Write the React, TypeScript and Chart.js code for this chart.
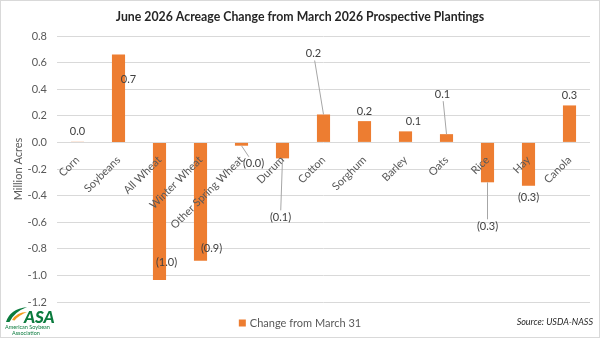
import { useEffect, useRef } from "react";
import { Chart, registerables } from "chart.js";

Chart.register(...registerables);

const FONT = "Lato, 'Open Sans', sans-serif";

const categories = [
  "Corn",
  "Soybeans",
  "All Wheat",
  "Winter Wheat",
  "Other Spring Wheat",
  "Durum",
  "Cotton",
  "Sorghum",
  "Barley",
  "Oats",
  "Rice",
  "Hay",
  "Canola",
];

// Million acres, June estimate minus March intentions
const changeFromMarch = [
  0.005, 0.66, -1.035, -0.89, -0.025, -0.12, 0.21, 0.16, 0.083, 0.062, -0.3, -0.326, 0.278,
];

const yMin = -1.2;
const yMax = 0.8;
const yStep = 0.2;

const seriesName = "Change from March 31";
const titleText = "June 2026 Acreage Change from March 2026 Prospective Plantings";
const yAxisTitle = "Million Acres";
const sourceText = "Source: USDA-NASS";

// Value label placement: pixel offset from the bar end, and whether a leader line is drawn
const labelPlacement: [number, number, boolean][] = [
  [0, -10, false],
  [10, 25, false],
  [7, -18, false],
  [11, -12, false],
  [12, 18, true],
  [-2, 59, true],
  [-10, -61, true],
  [0, -10, false],
  [8, -10, false],
  [-4, -40, true],
  [0, 44, true],
  [0, 12, false],
  [0, -10, false],
];

const BAR_COLOR = "#ED7D31";
const GRID_COLOR = "#d9d9d9";
const AXIS_TEXT = "#595959";
const LABEL_TEXT = "#404040";

function formatValue(v: number): string {
  return v < 0 ? `(${Math.abs(v).toFixed(1)})` : v.toFixed(1);
}

function drawLogo(ctx: CanvasRenderingContext2D) {
  const green = "#0b7b3e";
  ctx.save();
  // green leaf swoosh
  ctx.fillStyle = green;
  ctx.beginPath();
  ctx.moveTo(6, 322);
  ctx.quadraticCurveTo(10, 309, 27, 307);
  ctx.quadraticCurveTo(14, 312, 9.5, 322);
  ctx.closePath();
  ctx.fill();
  // orange swoosh
  ctx.fillStyle = "#f39a1e";
  ctx.beginPath();
  ctx.moveTo(12, 320);
  ctx.quadraticCurveTo(17, 312, 27, 312);
  ctx.quadraticCurveTo(19, 315, 14.5, 320.5);
  ctx.closePath();
  ctx.fill();
  ctx.fillStyle = green;
  ctx.textAlign = "left";
  ctx.textBaseline = "alphabetic";
  ctx.font = `italic 900 17px ${FONT}`;
  ctx.fillText("ASA", 24, 323);
  ctx.font = `5.5px ${FONT}`;
  ctx.fillText("American Soybean", 5, 329);
  ctx.fillText("Association", 12, 335);
  ctx.restore();
}

const decorations = {
  id: "decorations",
  afterDatasetsDraw(chart: Chart) {
    const ctx = chart.ctx;
    const meta = chart.getDatasetMeta(0);
    ctx.save();
    ctx.font = `11px ${FONT}`;
    ctx.textAlign = "center";
    ctx.textBaseline = "middle";
    meta.data.forEach((bar: any, i: number) => {
      const text = formatValue(changeFromMarch[i]);
      const [dx, dy, leader] = labelPlacement[i];
      const lx = bar.x + dx;
      const ly = bar.y + dy;
      if (leader) {
        const hw = ctx.measureText(text).width / 2 + 2;
        const hh = 7;
        const vx = lx - bar.x;
        const vy = ly - bar.y;
        const t = Math.min(hw / Math.max(Math.abs(vx), 1e-6), hh / Math.max(Math.abs(vy), 1e-6));
        const ex = lx - vx * t;
        const ey = ly - vy * t;
        ctx.strokeStyle = "#a6a6a6";
        ctx.lineWidth = 1;
        ctx.beginPath();
        ctx.moveTo(bar.x, bar.y);
        ctx.lineTo(ex, ey);
        ctx.stroke();
      }
      ctx.fillStyle = LABEL_TEXT;
      ctx.fillText(text, lx, ly);
    });
    ctx.restore();
  },
  afterDraw(chart: Chart) {
    const ctx = chart.ctx;
    const area = chart.chartArea;
    ctx.save();

    // chart frame
    ctx.strokeStyle = GRID_COLOR;
    ctx.lineWidth = 1;
    ctx.strokeRect(0.5, 0.5, chart.width - 1, chart.height - 1);

    // title
    ctx.fillStyle = "#262626";
    ctx.font = `bold 12.3px ${FONT}`;
    ctx.textAlign = "center";
    ctx.textBaseline = "middle";
    ctx.fillText(titleText, chart.width / 2, 17);

    // y axis title
    ctx.save();
    ctx.translate(18, (area.top + area.bottom) / 2);
    ctx.rotate(-Math.PI / 2);
    ctx.fillStyle = AXIS_TEXT;
    ctx.font = `11px ${FONT}`;
    ctx.fillText(yAxisTitle, 0, 0);
    ctx.restore();

    // legend
    ctx.font = `11px ${FONT}`;
    const tw = ctx.measureText(seriesName).width;
    const box = 7;
    const gap = 4;
    const startX = chart.width / 2 - (box + gap + tw) / 2;
    const ly = 323;
    ctx.fillStyle = BAR_COLOR;
    ctx.fillRect(startX, ly - box / 2, box, box);
    ctx.fillStyle = AXIS_TEXT;
    ctx.textAlign = "left";
    ctx.fillText(seriesName, startX + box + gap, ly);

    // source note
    ctx.font = `italic 9px ${FONT}`;
    ctx.fillStyle = "#262626";
    ctx.textAlign = "right";
    ctx.fillText(sourceText, 593, 322);

    ctx.restore();
    drawLogo(ctx);
  },
};

export default function App() {
  const canvasRef = useRef<HTMLCanvasElement | null>(null);

  useEffect(() => {
    const canvas = canvasRef.current;
    if (!canvas) return;
    const chart = new Chart(canvas, {
      type: "bar",
      data: {
        labels: categories,
        datasets: [
          {
            label: seriesName,
            data: changeFromMarch,
            backgroundColor: BAR_COLOR,
            borderWidth: 0,
            categoryPercentage: 1,
            barPercentage: 0.32,
          },
        ],
      },
      options: {
        responsive: false,
        animation: false,
        layout: { padding: { top: 36, bottom: 36, left: 0, right: 10 } },
        plugins: {
          legend: { display: false },
          tooltip: { enabled: false },
          title: { display: false },
        },
        scales: {
          x: {
            position: { y: 0 } as any,
            grid: { display: false },
            border: { display: false },
            ticks: {
              z: 1,
              autoSkip: false,
              minRotation: 45,
              maxRotation: 45,
              padding: 3,
              color: AXIS_TEXT,
              font: { family: FONT, size: 11 },
            },
            afterFit(scale: any) {
              scale.height = 0;
            },
          },
          y: {
            min: yMin,
            max: yMax,
            grid: { color: GRID_COLOR, drawTicks: false, lineWidth: 1 },
            border: { display: false },
            ticks: {
              stepSize: yStep,
              padding: 10,
              color: AXIS_TEXT,
              font: { family: FONT, size: 11 },
              callback: (v: any) => Number(v).toFixed(1),
            },
            afterFit(scale: any) {
              scale.width = 57;
            },
          },
        },
      },
      plugins: [decorations],
    });
    return () => chart.destroy();
  }, []);

  return (
    <div
      style={{
        position: "absolute",
        left: 0,
        top: 0,
        width: 600,
        height: 338,
        background: "#ffffff",
      }}
    >
      <canvas ref={canvasRef} width={600} height={338} />
    </div>
  );
}
